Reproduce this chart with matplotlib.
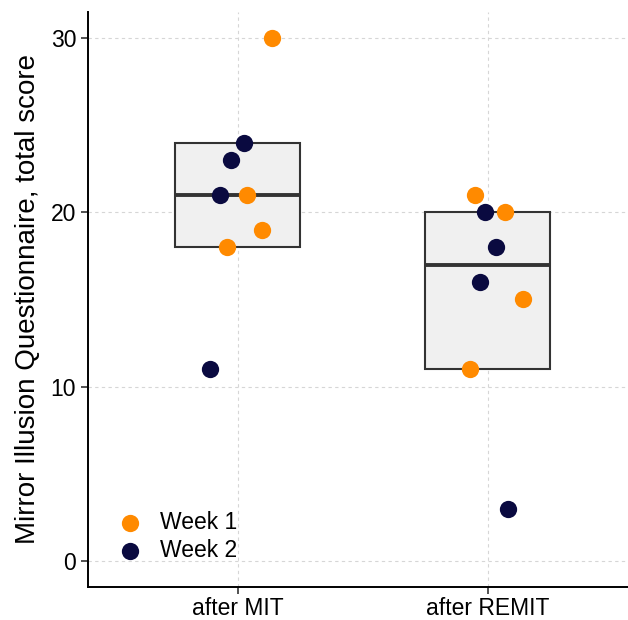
import matplotlib.pyplot as plt

plt.rcParams["font.family"] = ["Liberation Sans", "DejaVu Sans"]

conditions = ["after MIT", "after REMIT"]

# box stats per condition: lower, median, upper
box_low = [18, 11]
box_med = [21, 17]
box_high = [24, 20]

# individual scores (cond index, jitter offset, score)
week1_cond = [0, 0, 0, 0, 1, 1, 1, 1]
week1_jit = [0.136, 0.036, 0.096, -0.044, -0.052, 0.068, 0.14, -0.072]
week1_score = [30, 21, 19, 18, 21, 20, 15, 11]

week2_cond = [0, 0, 0, 0, 1, 1, 1, 1]
week2_jit = [0.024, -0.028, -0.072, -0.112, -0.012, 0.032, -0.032, 0.08]
week2_score = [24, 23, 21, 11, 20, 18, 16, 3]

orange = "#FF8A00"
navy = "#0A0A40"

fig = plt.figure(figsize=(6.28, 6.20), dpi=100)
ax = fig.add_axes([0.140, 0.053, 0.860, 0.928])

ax.grid(True, color="#D6D6D6", linestyle=(0, (3, 3)), linewidth=0.8)
ax.set_axisbelow(True)

for i in range(len(conditions)):
    ax.bar(i + 1, box_high[i] - box_low[i], bottom=box_low[i], width=0.5,
           color="#F0F0F0", edgecolor="#333333", linewidth=1.5, zorder=2)
    ax.plot([i + 1 - 0.25, i + 1 + 0.25], [box_med[i], box_med[i]],
            color="#333333", linewidth=2.8, zorder=3, solid_capstyle="butt")

ax.scatter([c + 1 + j for c, j in zip(week1_cond, week1_jit)], week1_score,
           s=155, color=orange, zorder=4, label="Week 1", linewidths=0)
ax.scatter([c + 1 + j for c, j in zip(week2_cond, week2_jit)], week2_score,
           s=155, color=navy, zorder=4, label="Week 2", linewidths=0)

ax.set_xlim(0.4, 2.56)
ax.set_ylim(-1.5, 31.5)
ax.set_xticks([1, 2])
ax.set_xticklabels(conditions)
ax.set_yticks([0, 10, 20, 30])
ax.tick_params(labelsize=16.5, labelcolor="black", color="#333333",
               length=5, width=1.2)
ax.tick_params(axis="x", pad=2)
ax.set_ylabel("Mirror Illusion Questionnaire, total score", fontsize=20,
              labelpad=7)

for s in ["top", "right"]:
    ax.spines[s].set_visible(False)
for s in ["left", "bottom"]:
    ax.spines[s].set_linewidth(1.4)

ax.legend(loc="lower left", bbox_to_anchor=(0.035, 0.027), frameon=False,
          fontsize=16.5, handletextpad=0.7, labelspacing=0.25,
          borderaxespad=0.0, handlelength=1.2)

fig.savefig("out.png", dpi=100)
